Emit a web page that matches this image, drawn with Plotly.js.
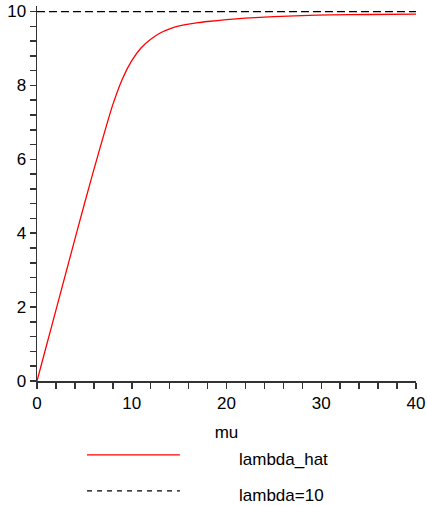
<!DOCTYPE html>
<html>
<head>
<meta charset="utf-8">
<script src="https://cdn.plot.ly/plotly-3.0.1.min.js"></script>
<style>html,body{margin:0;padding:0;background:#fff;}#chart{width:427px;height:506px;}</style>
</head>
<body>
<div id="chart"></div>
<script>
// Data
const mu = [0, 1, 2, 3, 4, 5, 6, 7, 8, 9, 10, 11, 12, 13, 14, 15, 16, 17, 18, 20, 22, 25, 28, 31, 35, 40];
const lambdaHat = [0, 0.96, 1.92, 2.88, 3.84, 4.79, 5.72, 6.62, 7.48, 8.17, 8.67, 9.02, 9.25, 9.42, 9.53, 9.61, 9.66, 9.70, 9.73, 9.78, 9.82, 9.86, 9.89, 9.91, 9.92, 9.93];
const muEnds = [0, 40];
const lambdaTrue = [10, 10];
const seriesNames = ["lambda_hat", "lambda=10"];
const xTicks = [0, 10, 20, 30, 40];
const yTicks = [0, 2, 4, 6, 8, 10];

const FONT = "Liberation Sans, Arial, sans-serif";
const AX = "#333333";
const FS = 17;

const traces = [
  {x: mu, y: lambdaHat, type: "scatter", mode: "lines", name: seriesNames[0],
   line: {color: "#ff0000", width: 1.3, shape: "spline", smoothing: 0.6}, showlegend: false, hoverinfo: "skip"},
  {x: muEnds, y: lambdaTrue, type: "scatter", mode: "lines", name: seriesNames[1],
   line: {color: "#000000", width: 1.2, dash: "8px,4px"}, showlegend: false, hoverinfo: "skip"}
];

const layout = {
  width: 427, height: 506,
  margin: {l: 37, r: 11, t: 6, b: 125},
  paper_bgcolor: "#ffffff", plot_bgcolor: "#ffffff",
  font: {family: FONT, size: FS, color: "#000"},
  showlegend: false,
  xaxis: {
    range: [0, 40], tickmode: "array", tickvals: xTicks, ticktext: xTicks.map(String),
    showline: true, linecolor: AX, linewidth: 1.5, zeroline: false, showgrid: false,
    ticks: "outside", ticklen: 6, tickwidth: 1.5, tickcolor: AX,
    minor: {dtick: 2, tick0: 0, ticks: "outside", ticklen: 6, tickwidth: 1.5, tickcolor: AX, showgrid: false},
    tickfont: {family: FONT, size: FS, color: "#000"},
    title: {text: "mu", font: {family: FONT, size: FS, color: "#000"}, standoff: 14},
    fixedrange: true
  },
  yaxis: {
    range: [0, 10.15], tickmode: "array", tickvals: yTicks, ticktext: yTicks.map(String),
    showline: true, linecolor: AX, linewidth: 1.5, zeroline: false, showgrid: false,
    ticks: "outside", ticklen: 6, tickwidth: 1.5, tickcolor: AX,
    minor: {dtick: 0.4, tick0: 0, ticks: "outside", ticklen: 6, tickwidth: 1.5, tickcolor: AX, showgrid: false},
    tickfont: {family: FONT, size: FS, color: "#000"},
    fixedrange: true
  },
  shapes: [
    {type: "line", xref: "paper", yref: "paper", x0: 0.132, x1: 0.377, y0: -0.197, y1: -0.197,
     line: {color: "#ff0000", width: 1.3}},
    {type: "line", xref: "paper", yref: "paper", x0: 0.132, x1: 0.377, y0: -0.293, y1: -0.293,
     line: {color: "#000000", width: 1.2, dash: "5px,5px"}}
  ],
  annotations: [
    {xref: "paper", yref: "paper", x: 0.528, y: -0.208, xanchor: "left", yanchor: "middle",
     text: seriesNames[0], showarrow: false, font: {family: FONT, size: FS, color: "#000"}},
    {xref: "paper", yref: "paper", x: 0.528, y: -0.304, xanchor: "left", yanchor: "middle",
     text: seriesNames[1], showarrow: false, font: {family: FONT, size: FS, color: "#000"}}
  ]
};

Plotly.newPlot("chart", traces, layout, {staticPlot: true, displayModeBar: false});
</script>
</body>
</html>
